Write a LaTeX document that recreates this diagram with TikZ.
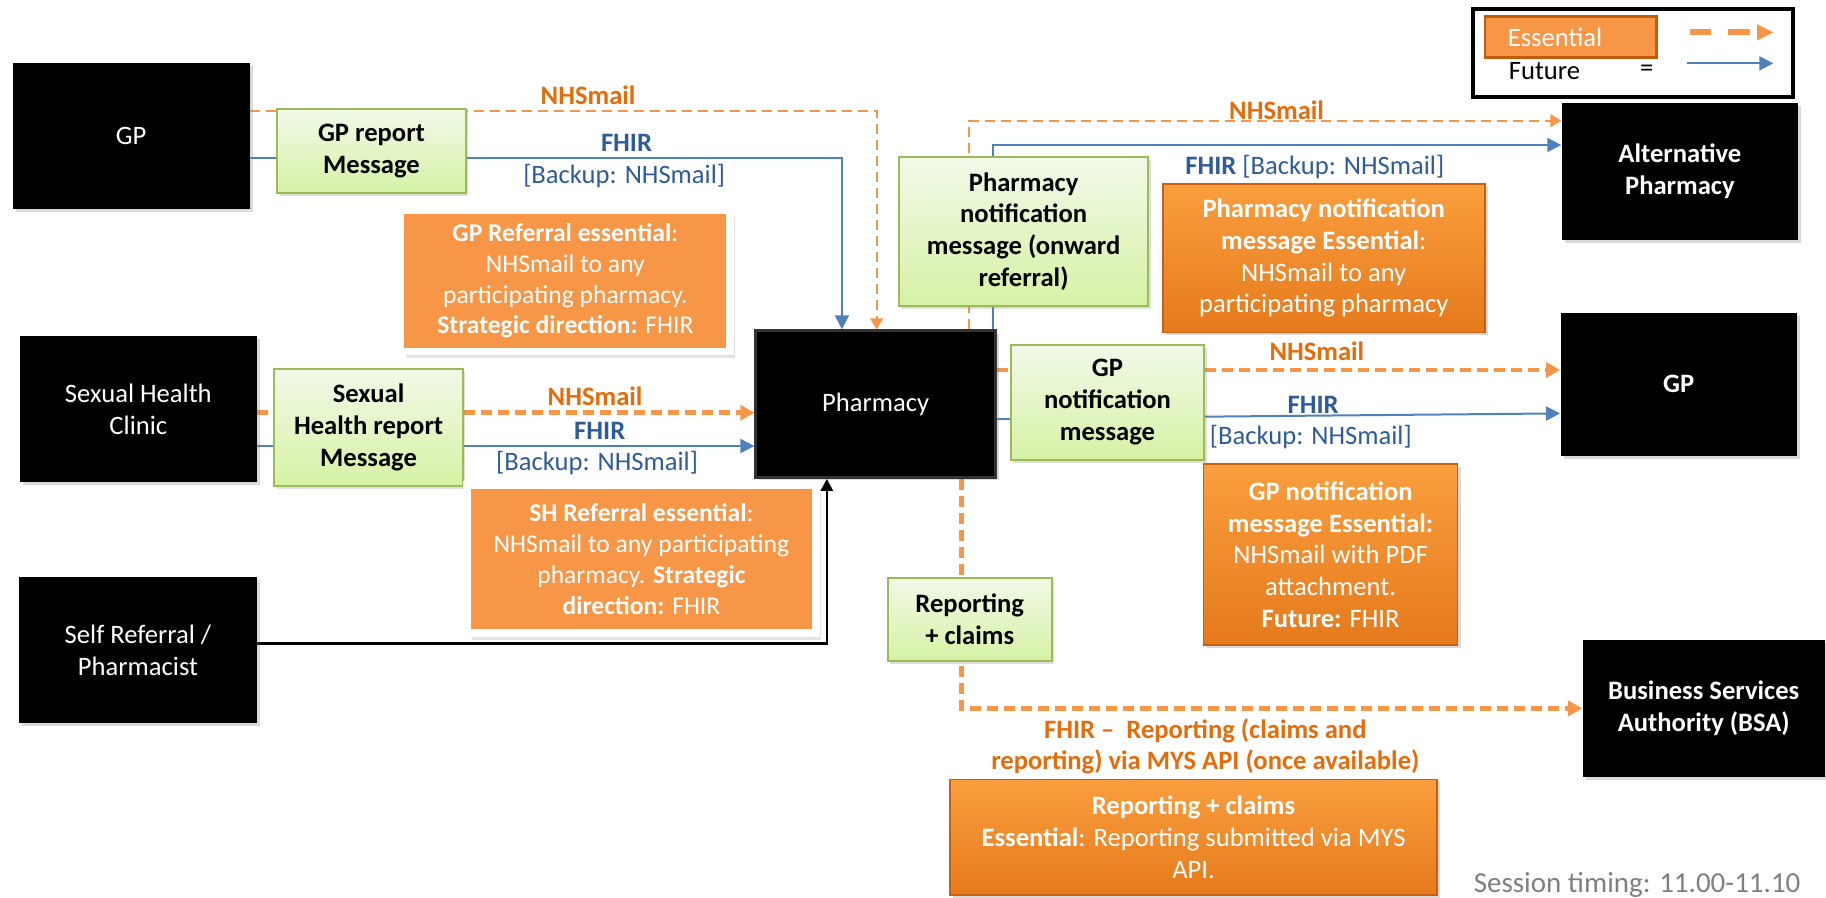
\documentclass[tikz,border=0pt]{standalone}
\usepackage{fontspec}
\setmainfont{Carlito}
\usetikzlibrary{arrows.meta,shadows}

\definecolor{essorange}{HTML}{F79646}
\definecolor{essdark}{HTML}{E46C0A}
\definecolor{gradtop}{HTML}{FA9E3E}
\definecolor{gradbot}{HTML}{E57A1C}
\definecolor{gradline}{HTML}{C8600F}
\definecolor{futblue}{HTML}{4F81BD}
\definecolor{fhirblue}{HTML}{2F5C99}
\definecolor{msgtop}{HTML}{F1F9E8}
\definecolor{msgbot}{HTML}{D6F2A4}
\definecolor{msgline}{HTML}{9BBB59}
\definecolor{timegray}{HTML}{7F7F7F}

\newcommand{\boxfont}{\fontsize{13.3}{15.9}\selectfont}
\newcommand{\notefont}{\fontsize{12.8}{15.4}\selectfont}

\pgfdeclarelayer{back}
\pgfsetlayers{back,main}

\tikzset{
  sz/.style 2 args={minimum width=#1*0.58225pt, minimum height=#2*0.58225pt},
  party/.style={fill=black, text=white, align=center, inner sep=0pt, font=\boxfont,
    drop shadow={opacity=0.3, shadow xshift=1.5pt, shadow yshift=-1.5pt}},
  msg/.style={draw=msgline, line width=1pt, top color=msgtop, bottom color=msgbot,
    align=center, inner sep=0pt, font=\boxfont\bfseries,
    drop shadow={opacity=0.25, shadow xshift=1.2pt, shadow yshift=-1.5pt}},
  note/.style={fill=essorange, draw=white, line width=3.8pt, text=white, align=center,
    inner sep=0pt, font=\notefont,
    drop shadow={opacity=0.22, shadow xshift=2.6pt, shadow yshift=-3.4pt}},
  gradnote/.style={top color=gradtop, bottom color=gradbot, draw=gradline, line width=0.8pt,
    text=white, align=center, inner sep=0pt, font=\boxfont,
    drop shadow={opacity=0.3, shadow xshift=1.5pt, shadow yshift=-1.5pt}},
  esslab/.style={text=essdark, font=\boxfont\bfseries, inner sep=0pt, align=center},
  futlab/.style={text=fhirblue, font=\boxfont, inner sep=0pt},
  fut/.style={draw=futblue, line width=1pt, -{Triangle[length=7pt,width=7pt]}},
  essthin/.style={draw=essorange, line width=1pt, dash pattern=on 5pt off 3pt,
    -{Triangle[length=5.5pt,width=6.5pt]}},
  essthick/.style={draw=essorange, line width=2.4pt, dash pattern=on 5.5pt off 3pt,
    -{Triangle[length=7pt,width=7.5pt]}},
  selfline/.style={draw=black, line width=1.2pt, -{Triangle[length=6pt,width=6pt]}},
}

\begin{document}
\begin{tikzpicture}[x=0.58225pt, y=-0.58225pt]
\useasboundingbox (0,0) rectangle (1568,771);

\node[party, sz={203.6}{126}] (gpl) at (112.6,116.8) {GP};
\node[party, sz={203}{126}] (shc) at (118.8,351.3) {Sexual Health\\Clinic};
\node[party, sz={204}{126}] (self) at (118.5,558.2) {Self Referral /\\Pharmacist};
\node[party, sz={206}{126}, draw=black!80, line width=1.4pt] (ph) at (752,347) {Pharmacy};
\node[party, sz={203}{117}, font=\boxfont\bfseries] (alt) at (1442.5,147.3) {Alternative\\Pharmacy};
\node[party, sz={203}{123}, font=\boxfont\bfseries] (gpr) at (1441.5,330) {GP};
\node[party, sz={208}{117}, font=\boxfont\bfseries] (bsa) at (1463,608.5) {Business Services\\Authority (BSA)};

\node[msg, sz={162}{72}] (gprep) at (319,130) {GP report\\Message};
\node[msg, sz={162}{100}] (shrep) at (316.5,367) {Sexual\\Health report\\Message};
\node[msg, sz={214}{128}] (phnote) at (879,198.7) {Pharmacy\\notification\\message (onward\\referral)};
\node[msg, sz={166}{99}] (gpnote) at (951,345.4) {GP\\notification\\message};
\node[msg, sz={141}{72}] (repmsg) at (832.7,532) {Reporting\\+ claims};

\node[note, sz={283}{121.6}] (gpess) at (485.5,241.2)
  {\textbf{GP Referral essential}:\\NHSmail to any\\participating pharmacy.\\\textbf{Strategic direction:} FHIR};
\node[note, sz={300}{127}] (shess) at (550.8,480)
  {\textbf{SH Referral essential}:\\NHSmail to any participating\\pharmacy. \textbf{Strategic}\\\textbf{direction:} FHIR};
\node[gradnote, sz={276.5}{127.4}] (phess) at (1136.7,221.7)
  {\textbf{Pharmacy notification}\\\textbf{message Essential}:\\NHSmail to any\\participating pharmacy};
\node[gradnote, sz={218}{155.4}] (gpness) at (1142.6,476.2)
  {\textbf{GP notification}\\\textbf{message Essential:}\\NHSmail with PDF\\attachment.\\\textbf{Future:} FHIR};
\node[gradnote, sz={418.4}{99.4}] (repess) at (1024.9,719)
  {\textbf{Reporting + claims}\\\textbf{Essential}: Reporting submitted via MYS\\API.};

\node[esslab] (nhs1) at (505,81.6) {NHSmail};
\node[futlab] (fhir1) at (538,123) {\textbf{FHIR}};
\node[futlab] (bak1) at (536,151) {[Backup: NHSmail]};
\node[esslab] (nhs2) at (511,340.6) {NHSmail};
\node[futlab] (fhir2) at (515,370) {\textbf{FHIR}};
\node[futlab] (bak2) at (512.7,397.9) {[Backup: NHSmail]};
\node[esslab] (nhs3) at (1096.2,94.5) {NHSmail};
\node[futlab] (fhir3) at (1129,143.7) {\textbf{FHIR} [Backup: NHSmail]};
\node[esslab] (nhs4) at (1130.8,302) {NHSmail};
\node[futlab] (fhir4) at (1127.6,347.8) {\textbf{FHIR}};
\node[futlab] (bak4) at (1125.6,375.6) {[Backup: NHSmail]};
\node[esslab] (rep) at (1035,641) {FHIR –\ \ Reporting (claims and\\reporting) via MYS API (once available)};
\node[anchor=east, text=timegray, font=\fontsize{14.5}{17}\selectfont, inner sep=0pt] (timing) at (1546.4,760) {Session timing: 11.00-11.10};

\node[draw=black, line width=2pt, sz={274.8}{75}, inner sep=0pt] (legend) at (1402.6,45.5) {};
\node[fill=essorange, draw=essdark!85!black, line width=1.4pt, text=white, font=\boxfont,
  align=left, text width=63pt, inner xsep=11.4pt, inner ysep=0pt, minimum height=35*0.58225pt] (esskey) at (1348.9,31.8) {Essential};
\node[anchor=west, font=\boxfont, inner sep=0pt] (futkey) at (1295.3,61) {Future};
\node[font=\boxfont, inner sep=0pt] (eqkey) at (1414,61) {=};
\coordinate (ke1) at (1451,27.8);
\coordinate (ke2) at (1523,27.8);
\coordinate (kf1) at (1448.4,54.4);
\coordinate (kf2) at (1522.8,54.4);
\draw[essthick, line width=3pt, dash pattern=on 10.8pt off 8.3pt, -{Triangle[length=8.3pt,width=7.5pt]}] (ke1) -- (ke2);
\draw[fut] (kf1) -- (kf2);

\begin{pgfonlayer}{back}
\draw[fut, -] (gpl.east |- 0,136) -- (gprep.west |- 0,136);
\draw[fut] (gprep.east |- 0,136) -| (ph.north -| 723,0);
\draw[essthin] (gpl.east |- 0,95) -| (ph.north -| 752.8,0);
\draw[essthick, -] (shc.east |- 0,354.4) -- (shrep.west |- 0,354.4);
\draw[essthick] (shrep.east |- 0,354.4) -- (ph.west |- 0,354.4);
\draw[fut, -] (shc.east |- 0,383) -- (shrep.west |- 0,383);
\draw[fut] (shrep.east |- 0,383) -- (ph.west |- 0,383);
\draw[selfline] (self.east |- 0,552.5) -| (ph.south -| 710,0);
\draw[essthin] (ph.north -| 832.4,0) |- (alt.west |- 0,103.6);
\draw[fut] (ph.north -| 853,0) |- (alt.west |- 0,124.5);
\draw[essthick, -] (ph.east |- 0,317.7) -- (gpnote.west |- 0,317.7);
\draw[essthick] (gpnote.east |- 0,317.7) -- (gpr.west |- 0,317.7);
\draw[fut, -] (ph.east |- 0,359.5) -- (gpnote.west |- 0,359.5);
\draw[fut] (gpnote.east |- 0,357.8) -- (gpr.west |- 0,355);
\draw[essthick] (ph.south -| 825.6,0) |- (bsa.west |- 0,608.3);
\end{pgfonlayer}
\end{tikzpicture}
\end{document}
